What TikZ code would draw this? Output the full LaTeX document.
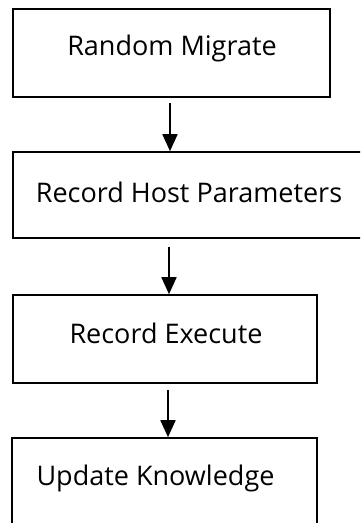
\documentclass[tikz,border=0pt]{standalone}
\usepackage{fontspec}
\newfontfamily\stepfont{Open Sans}
\usetikzlibrary{arrows.meta}
\begin{document}
\begin{tikzpicture}[x=1pt,y=-1pt,
  stepbox/.style={draw=black,line width=1.6pt,rectangle,inner sep=0pt},
  steptext/.style={font=\stepfont\fontsize{27}{32}\selectfont,inner sep=0pt,anchor=base},
  flow/.style={line width=1.8pt,-{Triangle[length=17pt,width=15pt]}}]
\useasboundingbox (0,0) rectangle (360,523);
\clip (0,0) rectangle (360,523);
% boxes
\node[stepbox,minimum width=317pt,minimum height=88pt] (b1) at (171.5,53) {};
\node[stepbox,minimum width=370pt,minimum height=86pt] (b2) at (198,195) {};
\node[stepbox,minimum width=304pt,minimum height=88pt] (b3) at (165,339) {};
\node[stepbox,minimum width=305pt,minimum height=110pt] (b4) at (164.5,493) {};
% labels
\node[steptext] (t1) at (172,55) {Random Migrate};
\node[steptext] (t2) at (189,202) {Record Host Parameters};
\node[steptext] (t3) at (166,343) {Record Execute};
\node[steptext] (t4) at (155.5,485) {Update Knowledge};
% connectors
\coordinate (s1) at (170,103);
\coordinate (s2) at (169,247);
\coordinate (s3) at (168,390);
\draw[flow] (s1) -- (s1 |- b2.north);
\draw[flow] (s2) -- (s2 |- b3.north);
\draw[flow] (s3) -- (s3 |- b4.north);
\end{tikzpicture}
\end{document}
